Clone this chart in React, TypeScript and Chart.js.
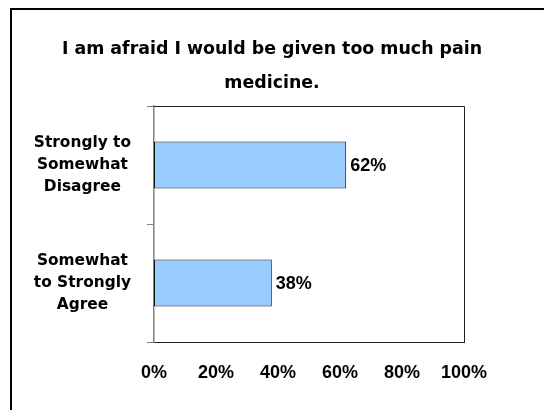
import React, { useEffect, useRef } from "react";
import { Chart, registerables } from "chart.js";

Chart.register(...registerables);

const titleLines = ["I am afraid I would be given too much pain", "medicine."];
const categories = [
  ["Strongly to", "Somewhat", "Disagree"],
  ["Somewhat", "to Strongly", "Agree"],
];
const shares = [62, 38];
const xTicks = [0, 20, 40, 60, 80, 100];

const HEADING_FONT = "'DejaVu Sans', sans-serif";
const NUMBER_FONT = "'Liberation Sans', Arial, sans-serif";

// Outline the top and right sides of the plot area and write each bar's value at its end.
const plotDecor = {
  id: "plotDecor",
  afterDatasetsDraw(chart: any) {
    const { ctx, chartArea } = chart;
    ctx.save();
    ctx.strokeStyle = "#222";
    ctx.lineWidth = 1;
    ctx.beginPath();
    ctx.moveTo(chartArea.left, chartArea.top + 0.5);
    ctx.lineTo(chartArea.right + 0.5, chartArea.top + 0.5);
    ctx.lineTo(chartArea.right + 0.5, chartArea.bottom);
    ctx.stroke();

    const meta = chart.getDatasetMeta(0);
    ctx.fillStyle = "#000";
    ctx.font = `bold 18px ${NUMBER_FONT}`;
    ctx.textAlign = "left";
    ctx.textBaseline = "middle";
    meta.data.forEach((bar: any, i: number) => {
      const v = chart.data.datasets[0].data[i];
      ctx.fillText(`${v}%`, bar.x + 4, bar.y + 1);
    });
    ctx.restore();
  },
};

export default function App() {
  const canvasRef = useRef<HTMLCanvasElement | null>(null);

  useEffect(() => {
    if (!canvasRef.current) return;
    const chart = new Chart(canvasRef.current, {
      type: "bar",
      data: {
        labels: categories as any,
        datasets: [
          {
            data: shares,
            backgroundColor: "#99CCFF",
            borderColor: "#111",
            borderWidth: 1,
            borderSkipped: false,
            barPercentage: 0.8,
            categoryPercentage: 0.5,
          },
        ],
      },
      options: {
        indexAxis: "y",
        animation: false,
        responsive: false,
        devicePixelRatio: 1,
        layout: { padding: { left: 12, right: 12, top: 0, bottom: 0 } },
        plugins: {
          legend: { display: false },
          tooltip: { enabled: false },
          title: {
            display: true,
            text: titleLines,
            color: "#000",
            font: { family: HEADING_FONT, size: 17.4, weight: "bold", lineHeight: "34px" } as any,
            padding: { top: 32, bottom: 6 },
          },
        },
        scales: {
          x: {
            min: 0,
            max: 100,
            afterBuildTicks(scale: any) {
              scale.ticks = xTicks.map((v) => ({ value: v }));
            },
            afterFit(scale: any) {
              scale.height = 68;
            },
            border: { display: true, color: "#222", width: 1 },
            grid: { display: false, drawTicks: false },
            ticks: {
              color: "#000",
              padding: 20,
              font: { family: NUMBER_FONT, size: 18, weight: "bold" },
              callback: (v: any) => `${v}%`,
            },
          },
          y: {
            afterFit(scale: any) {
              scale.width = 142;
            },
            border: { display: true, color: "#808080", width: 1.5 },
            grid: {
              offset: true,
              drawOnChartArea: false,
              drawTicks: true,
              tickLength: 7,
              color: "#808080",
            },
            ticks: {
              color: "#000",
              crossAlign: "center",
              padding: 16,
              font: { family: HEADING_FONT, size: 15.4, weight: "bold", lineHeight: 1.42 },
            },
          },
          // Empty right-hand margin so the plot ends well before the canvas edge.
          yRight: {
            type: "linear",
            position: "right",
            afterFit(scale: any) {
              scale.width = 68;
            },
            border: { display: false },
            grid: { display: false },
            ticks: { display: false },
          },
        },
      },
      plugins: [plotDecor],
    });
    return () => chart.destroy();
  }, []);

  return (
    <div
      style={{
        position: "fixed",
        left: 0,
        top: 0,
        width: 544,
        height: 410,
        background: "#fff",
        overflow: "hidden",
      }}
    >
      <div
        style={{
          position: "absolute",
          left: 10,
          top: 8,
          width: 600,
          height: 500,
          border: "2px solid #000",
        }}
      />
      <canvas
        ref={canvasRef}
        width={544}
        height={410}
        style={{ position: "absolute", left: 0, top: 0 }}
      />
    </div>
  );
}
